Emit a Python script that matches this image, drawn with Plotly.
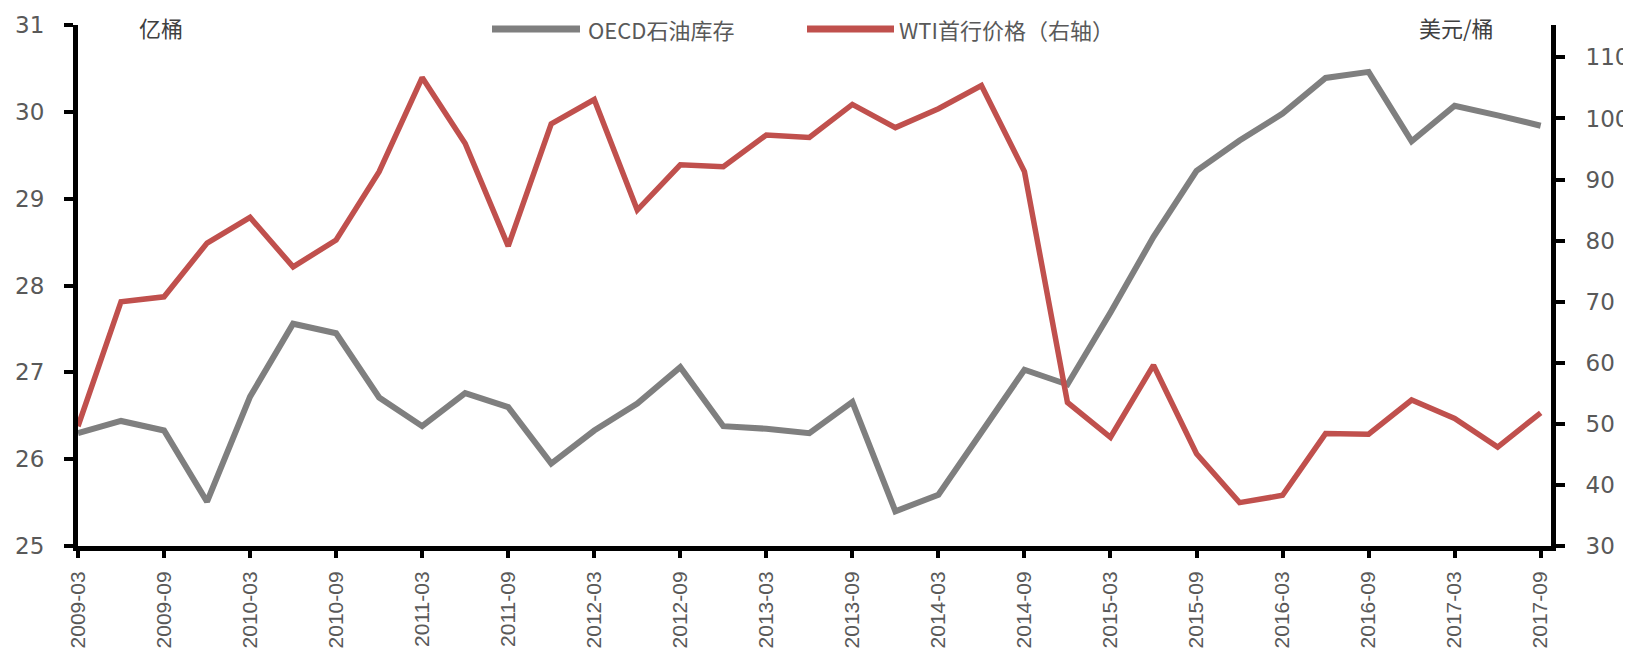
import plotly.graph_objects as go

dates = ["2009-03", "2009-06", "2009-09", "2009-12", "2010-03", "2010-06", "2010-09", "2010-12",
         "2011-03", "2011-06", "2011-09", "2011-12", "2012-03", "2012-06", "2012-09", "2012-12",
         "2013-03", "2013-06", "2013-09", "2013-12", "2014-03", "2014-06", "2014-09", "2014-12",
         "2015-03", "2015-06", "2015-09", "2015-12", "2016-03", "2016-06", "2016-09", "2016-12",
         "2017-03", "2017-06", "2017-09"]

oecd_stock = [26.30, 26.44, 26.33, 25.51, 26.72, 27.56, 27.45, 26.71,
              26.38, 26.76, 26.60, 25.95, 26.33, 26.64, 27.06, 26.38,
              26.35, 26.30, 26.66, 25.40, 25.59, 26.32, 27.03, 26.86,
              27.69, 28.56, 29.32, 29.67, 29.98, 30.39, 30.46, 29.66,
              30.07, 29.96, 29.84]

wti_price = [49.6, 70.0, 70.8, 79.6, 83.8, 75.7, 80.1, 91.3,
             106.7, 95.9, 79.1, 99.1, 103.1, 85.0, 92.4, 92.1,
             97.3, 96.9, 102.3, 98.5, 101.6, 105.4, 91.3, 53.5,
             47.8, 59.6, 45.1, 37.1, 38.3, 48.4, 48.3, 53.9,
             50.9, 46.2, 51.8]

name_stock = "OECD石油库存"
name_wti = "WTI首行价格（右轴）"
unit_left = "亿桶"
unit_right = "美元/桶"

left_ticks = [25, 26, 27, 28, 29, 30, 31]
right_ticks = [30, 40, 50, 60, 70, 80, 90, 100, 110]

GREY = "#7F7F7F"
RED = "#C0504D"
TXT = "#595959"
NUM = "DejaVu Sans, sans-serif"
XFONT = "Liberation Sans, Arial, sans-serif"
CJK = "Noto Sans CJK SC, Liberation Sans, sans-serif"

# page has an 8px body margin; the figure is sized so it fills the window exactly
OFF = 8
W, H = 1631 - OFF, 651 - OFF
# plot area in page pixels: left 78, right 1551, top 25, bottom 546
L = 78 - OFF
T = 25 - OFF
R = W - (1551 - OFF)
B = H - (546 - OFF)
pw, ph = W - L - R, H - T - B


def px(x):
    return (x - OFF - L) / pw


def py(y):
    return (H - B - (y - OFF)) / ph


fig = go.Figure()
fig.add_trace(go.Scatter(x=dates, y=oecd_stock, name=name_stock, mode="lines",
                         line=dict(color=GREY, width=6), yaxis="y", showlegend=False))
fig.add_trace(go.Scatter(x=dates, y=wti_price, name=name_wti, mode="lines",
                         line=dict(color=RED, width=5.5), yaxis="y2", showlegend=False))

fig.update_layout(
    width=W, height=H,
    margin=dict(l=L, r=R, t=T, b=B, autoexpand=False),
    paper_bgcolor="white", plot_bgcolor="white",
    xaxis=dict(type="category", range=[0, 34.24], tickvals=dates[::2], ticktext=dates[::2],
               tickangle=-90, showgrid=False, zeroline=False,
               showline=True, linecolor="black", linewidth=5,
               ticks="outside", ticklen=7, tickwidth=4, tickcolor="black",
               ticklabelstandoff=5,
               tickfont=dict(family=XFONT, size=21, color=TXT)),
    yaxis=dict(range=[25, 31], tickvals=left_ticks, showgrid=False, zeroline=False,
               showline=True, linecolor="black", linewidth=5,
               ticks="outside", ticklen=9, tickwidth=4, tickcolor="black",
               ticklabelstandoff=15,
               tickfont=dict(family=NUM, size=23, color=TXT)),
    yaxis2=dict(range=[30, 115.3], tickvals=right_ticks, overlaying="y", side="right",
                showgrid=False, zeroline=False,
                showline=True, linecolor="black", linewidth=5,
                ticks="outside", ticklen=9, tickwidth=4, tickcolor="black",
                ticklabelstandoff=16,
                tickfont=dict(family=NUM, size=23, color=TXT)),
)

# legend drawn as line keys + text
fig.add_shape(type="line", xref="paper", yref="paper", x0=px(492), x1=px(580), y0=py(29), y1=py(29),
              line=dict(color=GREY, width=7))
fig.add_shape(type="line", xref="paper", yref="paper", x0=px(807), x1=px(894), y0=py(29), y1=py(29),
              line=dict(color=RED, width=7))
fig.add_annotation(xref="paper", yref="paper", x=px(586), y=py(29), text=name_stock, showarrow=False,
                   xanchor="left", yanchor="middle", font=dict(family=CJK, size=22, color=TXT))
fig.add_annotation(xref="paper", yref="paper", x=px(897), y=py(29), text=name_wti, showarrow=False,
                   xanchor="left", yanchor="middle", font=dict(family=CJK, size=22, color=TXT))

fig.add_annotation(xref="paper", yref="paper", x=px(161), y=py(9), text=unit_left, showarrow=False,
                   xanchor="center", yanchor="top", font=dict(family=CJK, size=22, color="#404040"))
fig.add_annotation(xref="paper", yref="paper", x=px(1456), y=py(9), text=unit_right, showarrow=False,
                   xanchor="center", yanchor="top", font=dict(family=CJK, size=22, color="#404040"))

fig.write_html("out.html")
